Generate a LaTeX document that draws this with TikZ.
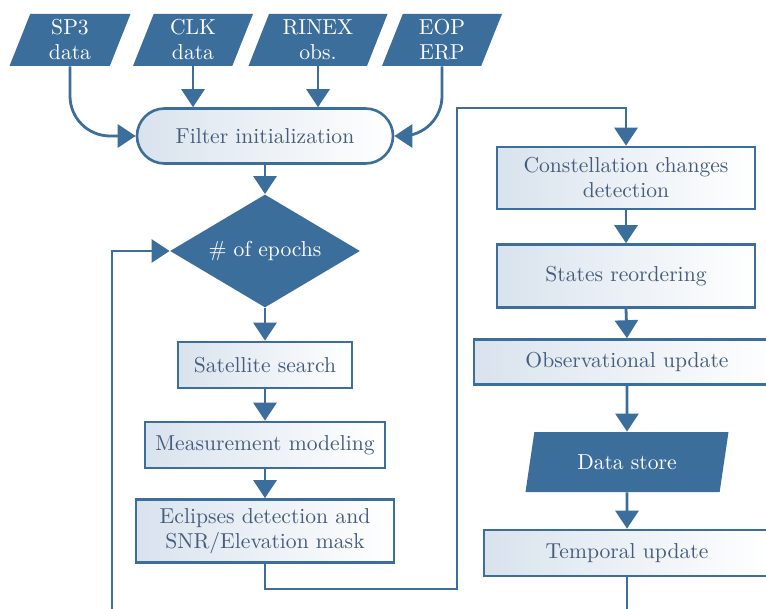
\documentclass[tikz,border=0pt]{standalone}
\usetikzlibrary{shapes.geometric,shapes.misc,arrows.meta}
\definecolor{fcblue}{HTML}{3C6E9C}
\definecolor{fctext}{HTML}{465C7C}
\definecolor{fcfill}{HTML}{D9E3ED}
\begin{document}
\begin{tikzpicture}[x=0.5pt,y=-0.5pt,
  font=\fontsize{10.8}{12.5}\selectfont,
  iobox/.style={trapezium, trapezium left angle=65, trapezium right angle=115,
    trapezium stretches body=true, fill=fcblue, draw=none, text=white,
    align=center, inner sep=1pt},
  procbox/.style={rectangle, draw=fcblue, line width=1.3pt, left color=fcfill,
    right color=white, text=fctext, align=center, inner sep=1pt},
  decbox/.style={diamond, fill=fcblue, text=white, inner sep=0pt},
  termbox/.style={rounded rectangle, draw=fcblue, line width=1.3pt,
    left color=fcfill, right color=white, text=fctext, inner sep=1pt},
  conn/.style={draw=fcblue, line width=1.4pt},
  arr/.style={conn, -{Triangle[length=9pt,width=11.5pt]}}
]
\clip (0,0) rectangle (766,609);
\fill[white] (0,0) rectangle (766,609);

% inputs
\node[iobox, minimum width=60.5pt, minimum height=26pt] (sp3) at (70,40) {SP3\\data};
\node[iobox, minimum width=60pt, minimum height=26pt] (clk) at (193,40) {CLK\\data};
\node[iobox, minimum width=69.5pt, minimum height=26pt] (rinex) at (318,40) {RINEX\\obs.};
\node[iobox, minimum width=60pt, minimum height=26pt] (eop) at (442,40) {EOP\\ERP};

% left column
\node[termbox, minimum width=130pt, minimum height=27.5pt] (filter) at (265,136) {Filter initialization};
\node[decbox, minimum width=95pt, minimum height=56.5pt, aspect=1.68] (epochs) at (265,251) {\# of epochs};
\node[procbox, minimum width=87pt, minimum height=23pt] (sat) at (265,365) {Satellite search};
\node[procbox, minimum width=120pt, minimum height=23pt] (meas) at (265,445) {Measurement modeling};
\node[procbox, minimum width=129pt, minimum height=31.5pt] (ecl) at (265,531) {Eclipses detection and\\SNR/Elevation mask};

% right column
\node[procbox, minimum width=129pt, minimum height=31pt] (const) at (626,178) {Constellation changes\\detection};
\node[procbox, minimum width=129pt, minimum height=31.5pt] (states) at (626,276) {States reordering};
\node[procbox, minimum width=153pt, minimum height=22.5pt] (obs) at (627,362) {Observational update};
\node[iobox, minimum width=101.5pt, minimum height=30pt] (store) at (627,462) {Data store};
\node[procbox, minimum width=143pt, minimum height=23pt] (temp) at (627,553) {Temporal update};

\coordinate (bendA) at (457,589);
\coordinate (bendB) at (457,108);
\coordinate (tailout) at (627,625);
\coordinate (loopin) at (112,625);

% connectors
\draw[arr, rounded corners=20pt] (sp3.south) |- (filter.west);
\draw[arr, rounded corners=20pt] (eop.south) |- (filter.east);
\draw[arr] (clk.south) -- (clk.south |- filter.north);
\draw[arr] (rinex.south) -- (rinex.south |- filter.north);
\draw[arr] (filter.south) -- (epochs.north);
\draw[arr] (epochs.south) -- (sat.north);
\draw[arr] (sat.south) -- (meas.north);
\draw[arr] (meas.south) -- (ecl.north);
\draw[arr] (ecl.south) |- (bendA) -- (bendB) -| (const.north);
\draw[arr] (const.south) -- (states.north);
\draw[arr] (states.south) -- (obs.north);
\draw[arr] (obs.south) -- (store.north);
\draw[arr] (store.south) -- (temp.north);
\draw[conn] (temp.south) -- (tailout);
\draw[arr] (loopin) |- (epochs.west);
\end{tikzpicture}
\end{document}
